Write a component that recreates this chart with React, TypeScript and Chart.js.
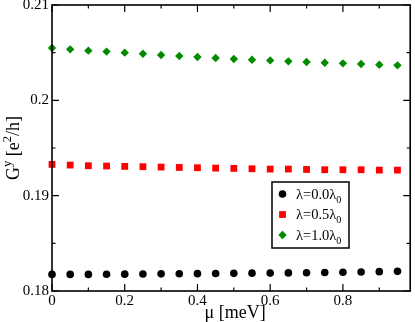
import React, { useEffect, useRef } from 'react';
import { Chart, registerables } from 'chart.js';

Chart.register(...registerables);

const mu = [0, 0.05, 0.1, 0.15, 0.2, 0.25, 0.3, 0.35, 0.4, 0.45, 0.5, 0.55, 0.6, 0.65, 0.7, 0.75, 0.8, 0.85, 0.9, 0.95];
const g00 = [0.18174, 0.18174, 0.18174, 0.18175, 0.18177, 0.18178, 0.1818, 0.18181, 0.18182, 0.18184, 0.18185, 0.18187, 0.18188, 0.1819, 0.18192, 0.18194, 0.18197, 0.182, 0.18203, 0.18206];
const g05 = [0.19328, 0.19321, 0.19314, 0.19311, 0.19307, 0.19304, 0.193, 0.19296, 0.19293, 0.19289, 0.19286, 0.19282, 0.19279, 0.19279, 0.19275, 0.19272, 0.19272, 0.19272, 0.19268, 0.19268];
const g10 = [0.20549, 0.20535, 0.20521, 0.20511, 0.205, 0.20489, 0.20475, 0.20465, 0.20454, 0.20444, 0.20433, 0.20426, 0.20419, 0.20409, 0.20402, 0.20395, 0.20388, 0.20381, 0.20374, 0.20367];

const seriesLabels = ['λ=0.0λ', 'λ=0.5λ', 'λ=1.0λ'];
const seriesSub = '0';
const xMajor = [0, 0.2, 0.4, 0.6, 0.8];
const xMajorLabels = ['0', '0.2', '0.4', '0.6', '0.8'];
const xMinor = [0.1, 0.3, 0.5, 0.7, 0.9];
const yMajor = [0.18, 0.19, 0.2, 0.21];
const yMajorLabels = ['0.18', '0.19', '0.2', '0.21'];
const yMinor = [0.185, 0.195, 0.205];
const xTitle = 'μ [meV]';

const FONT = '"Liberation Serif", "DejaVu Serif", serif';
const colors = ['#000000', '#ff0000', '#008b00'];
const styles: any[] = ['circle', 'rect', 'rectRot'];
const radii = [3.8, 4.8, 4.2];

type Seg = { t: string; sup?: boolean; sub?: boolean };

function drawRich(ctx: CanvasRenderingContext2D, segs: Seg[], x: number, y: number, size: number) {
  let cx = x;
  for (const s of segs) {
    const fs = s.sup || s.sub ? size * 0.7 : size;
    ctx.font = `${fs}px ${FONT}`;
    const dy = s.sup ? -size * 0.42 : s.sub ? size * 0.28 : 0;
    ctx.fillText(s.t, cx, y + dy);
    cx += ctx.measureText(s.t).width;
  }
  return cx - x;
}

function richWidth(ctx: CanvasRenderingContext2D, segs: Seg[], size: number) {
  let w = 0;
  for (const s of segs) {
    const fs = s.sup || s.sub ? size * 0.7 : size;
    ctx.font = `${fs}px ${FONT}`;
    w += ctx.measureText(s.t).width;
  }
  return w;
}

function drawMarker(ctx: CanvasRenderingContext2D, style: string, x: number, y: number, r: number, color: string) {
  ctx.save();
  ctx.fillStyle = color;
  ctx.beginPath();
  if (style === 'circle') {
    ctx.arc(x, y, r, 0, Math.PI * 2);
  } else if (style === 'rect') {
    const s = Math.SQRT1_2 * r;
    ctx.rect(x - s, y - s, 2 * s, 2 * s);
  } else {
    ctx.moveTo(x - r, y);
    ctx.lineTo(x, y - r);
    ctx.lineTo(x + r, y);
    ctx.lineTo(x, y + r);
    ctx.closePath();
  }
  ctx.fill();
  ctx.restore();
}

const framePlugin = {
  id: 'framePlugin',
  afterDraw(chart: any) {
    const ctx: CanvasRenderingContext2D = chart.ctx;
    const { left, right, top, bottom } = chart.chartArea;
    const xs = chart.scales.x;
    const ys = chart.scales.y;
    ctx.save();
    ctx.strokeStyle = '#000';
    ctx.lineWidth = 1.6;
    ctx.strokeRect(left, top, right - left, bottom - top);
    ctx.lineWidth = 1.2;
    const MAJ = 7;
    const MIN = 3.5;
    ctx.beginPath();
    for (const v of xMajor) {
      const px = xs.getPixelForValue(v);
      ctx.moveTo(px, bottom); ctx.lineTo(px, bottom - MAJ);
      ctx.moveTo(px, top); ctx.lineTo(px, top + MAJ);
    }
    for (const v of xMinor) {
      const px = xs.getPixelForValue(v);
      ctx.moveTo(px, bottom); ctx.lineTo(px, bottom - MIN);
      ctx.moveTo(px, top); ctx.lineTo(px, top + MIN);
    }
    for (const v of yMajor) {
      const py = ys.getPixelForValue(v);
      ctx.moveTo(left, py); ctx.lineTo(left + MAJ, py);
      ctx.moveTo(right, py); ctx.lineTo(right - MAJ, py);
    }
    for (const v of yMinor) {
      const py = ys.getPixelForValue(v);
      ctx.moveTo(left, py); ctx.lineTo(left + MIN, py);
      ctx.moveTo(right, py); ctx.lineTo(right - MIN, py);
    }
    ctx.stroke();

    ctx.fillStyle = '#000';
    ctx.font = `15px ${FONT}`;
    ctx.textAlign = 'center';
    ctx.textBaseline = 'alphabetic';
    xMajor.forEach((v, i) => {
      ctx.fillText(xMajorLabels[i], xs.getPixelForValue(v), bottom + 14);
    });
    ctx.textAlign = 'right';
    ctx.textBaseline = 'middle';
    yMajor.forEach((v, i) => {
      ctx.fillText(yMajorLabels[i], left - 3, ys.getPixelForValue(v));
    });

    // x title
    ctx.textAlign = 'center';
    ctx.textBaseline = 'alphabetic';
    ctx.font = `18px ${FONT}`;
    ctx.fillText(xTitle, (left + right) / 2 + 4, bottom + 26.5);

    // y title
    const ySegs: Seg[] = [{ t: 'G' }, { t: 'y', sup: true }, { t: ' [e' }, { t: '2', sup: true }, { t: '/h]' }];
    ctx.save();
    ctx.translate(19, (top + bottom) / 2);
    ctx.rotate(-Math.PI / 2);
    ctx.textAlign = 'left';
    const w = richWidth(ctx, ySegs, 18);
    drawRich(ctx, ySegs, -w / 2, 0, 18);
    ctx.restore();

    // legend
    const lx = 272, ly = 182, lw = 77, lh = 66;
    ctx.fillStyle = '#fff';
    ctx.fillRect(lx, ly, lw, lh);
    ctx.strokeStyle = '#000';
    ctx.lineWidth = 1.5;
    ctx.strokeRect(lx, ly, lw, lh);
    const rows = [194, 214.5, 235];
    seriesLabels.forEach((lab, i) => {
      drawMarker(ctx, styles[i], 282.5, rows[i], radii[i], colors[i]);
      ctx.fillStyle = '#000';
      ctx.textAlign = 'left';
      ctx.textBaseline = 'alphabetic';
      drawRich(ctx, [{ t: lab }, { t: seriesSub, sub: true }], 296, rows[i] + 4.5, 14.5);
    });
    ctx.restore();
  },
};

export default function App() {
  const ref = useRef<HTMLCanvasElement | null>(null);
  useEffect(() => {
    document.body.style.margin = '0';
    const canvas = ref.current!;
    const mk = (ys: number[], i: number) => ({
      label: seriesLabels[i] + seriesSub,
      data: mu.map((x, k) => ({ x, y: ys[k] })),
      pointStyle: styles[i],
      pointRadius: radii[i],
      pointHoverRadius: radii[i],
      backgroundColor: colors[i],
      borderColor: colors[i],
      borderWidth: 0,
      showLine: false,
      clip: false as any,
    });
    const chart = new Chart(canvas, {
      type: 'scatter',
      data: { datasets: [mk(g00, 0), mk(g05, 1), mk(g10, 2)] },
      options: {
        animation: false,
        responsive: false,
        events: [],
        layout: { padding: { left: 52, right: 2, top: 5, bottom: 31 } },
        plugins: { legend: { display: false }, tooltip: { enabled: false } },
        scales: {
          x: { type: 'linear', min: 0, max: 0.985, display: false },
          y: { type: 'linear', min: 0.18, max: 0.21, display: false },
        },
      },
      plugins: [framePlugin],
    });
    return () => chart.destroy();
  }, []);
  return (
    <div style={{ position: 'fixed', left: 0, top: 0, width: 415, height: 322, background: '#fff' }}>
      <canvas ref={ref} width={415} height={322} style={{ width: 415, height: 322, display: 'block' }} />
    </div>
  );
}
